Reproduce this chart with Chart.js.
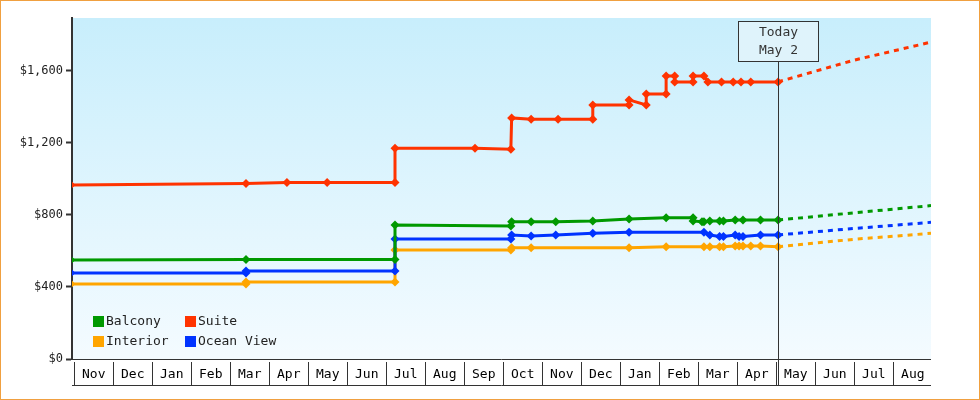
<!DOCTYPE html>
<html>
<head>
<meta charset="utf-8">
<script src="https://cdn.jsdelivr.net/npm/chart.js@4"></script>
<style>
  body { margin: 0; background: #fff; }
  #wrap { position: relative; width: 978px; height: 398px; border: 1px solid #f0a040; }
</style>
</head>
<body>
<div id="wrap"><canvas id="priceChart" width="978" height="398"></canvas></div>
<script>
// x positions are months since Nov 1 of the first year
const monthLabels = ['Nov','Dec','Jan','Feb','Mar','Apr','May','Jun','Jul','Aug','Sep','Oct','Nov','Dec','Jan','Feb','Mar','Apr','May','Jun','Jul','Aug'];
const yTicks = [0, 400, 800, 1200, 1600];
const todayX = 18.05;
const todayLabel = ['Today', 'May 2'];

const suiteX = [-0.08, 4.41, 5.46, 6.49, 8.23, 8.23, 10.28, 11.2, 11.22, 11.72, 12.41, 13.3, 13.3, 14.23, 14.23, 14.67, 14.67, 15.18, 15.18, 15.4, 15.4, 15.87, 15.87, 16.15, 16.25, 16.6, 16.9, 17.1, 17.35, 18.05];
const suiteY = [967, 975, 980, 980, 980, 1170, 1170, 1165, 1339, 1332, 1332, 1332, 1411, 1411, 1439, 1411, 1472, 1472, 1572, 1572, 1539, 1539, 1572, 1572, 1539, 1539, 1539, 1539, 1539, 1539];
const balconyX = [-0.08, 4.41, 8.23, 8.23, 11.2, 11.22, 11.72, 12.35, 13.3, 14.23, 15.18, 15.87, 15.87, 16.1, 16.15, 16.3, 16.55, 16.65, 16.95, 17.15, 17.6, 18.05];
const balconyY = [550, 553, 553, 744, 739, 762, 762, 762, 767, 777, 785, 785, 767, 762, 762, 767, 767, 767, 772, 772, 772, 772];
const oceanX = [-0.08, 4.41, 4.41, 8.23, 8.23, 11.2, 11.22, 11.72, 12.35, 13.3, 14.23, 16.15, 16.3, 16.55, 16.65, 16.95, 17.05, 17.15, 17.6, 18.05];
const oceanY = [478, 478, 489, 489, 667, 667, 689, 683, 689, 698, 704, 704, 689, 680, 680, 689, 680, 680, 689, 689];
const interiorX = [-0.08, 4.41, 4.41, 8.23, 8.23, 11.2, 11.22, 11.72, 14.23, 15.18, 16.15, 16.3, 16.55, 16.65, 16.95, 17.05, 17.15, 17.35, 17.6, 18.05];
const interiorY = [417, 417, 428, 428, 605, 605, 618, 618, 618, 624, 624, 624, 624, 624, 627, 627, 627, 627, 627, 624];

const futureX = [18.05, 20, 21.97];
const suiteFuture = [1539, 1660, 1760];
const balconyFuture = [772, 812, 852];
const oceanFuture = [689, 725, 759];
const interiorFuture = [624, 665, 698];

const colors = { Balcony: '#009900', Suite: '#ff3300', Interior: '#ffa500', 'Ocean View': '#0033ff' };
const legendOrder = ['Balcony', 'Suite', 'Interior', 'Ocean View'];

function pts(xs, ys) {
    return xs.map((x, i) => ({ x: x, y: ys[i] }));
}

function series(label, xs, ys) {
    return {
        label: label,
        data: pts(xs, ys),
        borderColor: colors[label],
        backgroundColor: colors[label],
        borderWidth: 3,
        pointStyle: 'rectRot',
        pointRadius: 4.5,
        pointBorderWidth: 0,
        tension: 0
    };
}

function future(label, ys) {
    return {
        label: label + ' future',
        data: pts(futureX, ys),
        borderColor: colors[label],
        borderWidth: 3,
        borderDash: [5, 5],
        pointRadius: 0,
        tension: 0
    };
}

const mono = 'DejaVu Sans Mono';

const decorPlugin = {
    id: 'decor',
    beforeDraw(chart) {
        const { ctx, chartArea: a } = chart;
        const g = ctx.createLinearGradient(0, a.top, 0, a.bottom);
        g.addColorStop(0, '#c8eefc');
        g.addColorStop(1, '#f4fbff');
        ctx.fillStyle = g;
        ctx.fillRect(a.left, a.top, a.right - a.left, a.bottom - a.top);
    },
    afterDraw(chart) {
        const { ctx, chartArea: a, scales } = chart;
        const xs = scales.x;
        ctx.save();
        // month cells
        ctx.strokeStyle = '#333';
        ctx.lineWidth = 1;
        ctx.font = '13px ' + mono;
        ctx.fillStyle = '#000';
        ctx.textAlign = 'center';
        ctx.textBaseline = 'middle';
        const top = a.bottom + 3, bot = a.bottom + 26;
        ctx.beginPath();
        ctx.moveTo(a.left, a.bottom + 0.5);
        ctx.lineTo(a.right, a.bottom + 0.5);
        ctx.moveTo(a.left, bot + 0.5);
        ctx.lineTo(a.right, bot + 0.5);
        ctx.stroke();
        monthLabels.forEach((m, i) => {
            const x0 = Math.round(xs.getPixelForValue(i)) + 0.5;
            const x1 = xs.getPixelForValue(i + 1);
            ctx.beginPath();
            ctx.moveTo(x0, top);
            ctx.lineTo(x0, bot);
            ctx.stroke();
            ctx.fillText(m, (x0 + x1) / 2, (top + bot) / 2 + 1);
        });
        // today line and box
        const tx = Math.round(xs.getPixelForValue(todayX)) + 0.5;
        ctx.beginPath();
        ctx.moveTo(tx, 60);
        ctx.lineTo(tx, bot);
        ctx.stroke();
        ctx.fillStyle = '#dff3fb';
        ctx.fillRect(tx - 40, 20, 80, 40);
        ctx.strokeRect(tx - 40, 20.5, 80, 40);
        ctx.fillStyle = '#333';
        ctx.fillText(todayLabel[0], tx, 32);
        ctx.fillText(todayLabel[1], tx, 50);
        // legend
        ctx.textAlign = 'left';
        legendOrder.forEach((name, i) => {
            const col = i % 2, row = Math.floor(i / 2);
            const lx = a.left + 21 + col * 92, ly = 320 + row * 20;
            ctx.fillStyle = colors[name];
            ctx.fillRect(lx, ly - 5, 11, 11);
            ctx.fillStyle = '#222';
            ctx.fillText(name, lx + 13, ly + 1);
        });
        ctx.restore();
    }
};

new Chart(document.getElementById('priceChart'), {
    type: 'line',
    data: {
        datasets: [
            future('Suite', suiteFuture),
            future('Balcony', balconyFuture),
            future('Ocean View', oceanFuture),
            future('Interior', interiorFuture),
            series('Suite', suiteX, suiteY),
            series('Balcony', balconyX, balconyY),
            series('Ocean View', oceanX, oceanY),
            series('Interior', interiorX, interiorY)
        ]
    },
    options: {
        responsive: false,
        animation: false,
        layout: { padding: { top: 17, right: 48, left: 0, bottom: 0 } },
        plugins: { legend: { display: false }, tooltip: { enabled: false } },
        scales: {
            x: {
                type: 'linear',
                min: -0.05,
                max: 21.97,
                grid: { display: false },
                border: { display: false },
                ticks: { display: false },
                afterFit(s) { s.height = 40; }
            },
            y: {
                min: 0,
                max: 1894,
                afterBuildTicks(s) { s.ticks = yTicks.map(v => ({ value: v })); },
                afterFit(s) { s.width = 71; },
                grid: { drawOnChartArea: false, tickLength: 6, color: '#333', tickWidth: 2 },
                border: { display: true, color: '#333', width: 2 },
                ticks: {
                    color: '#222',
                    padding: 3,
                    font: { family: mono, size: 12 },
                    callback: v => '$' + v.toLocaleString('en-US')
                }
            }
        }
    },
    plugins: [decorPlugin]
});
</script>
</body>
</html>
